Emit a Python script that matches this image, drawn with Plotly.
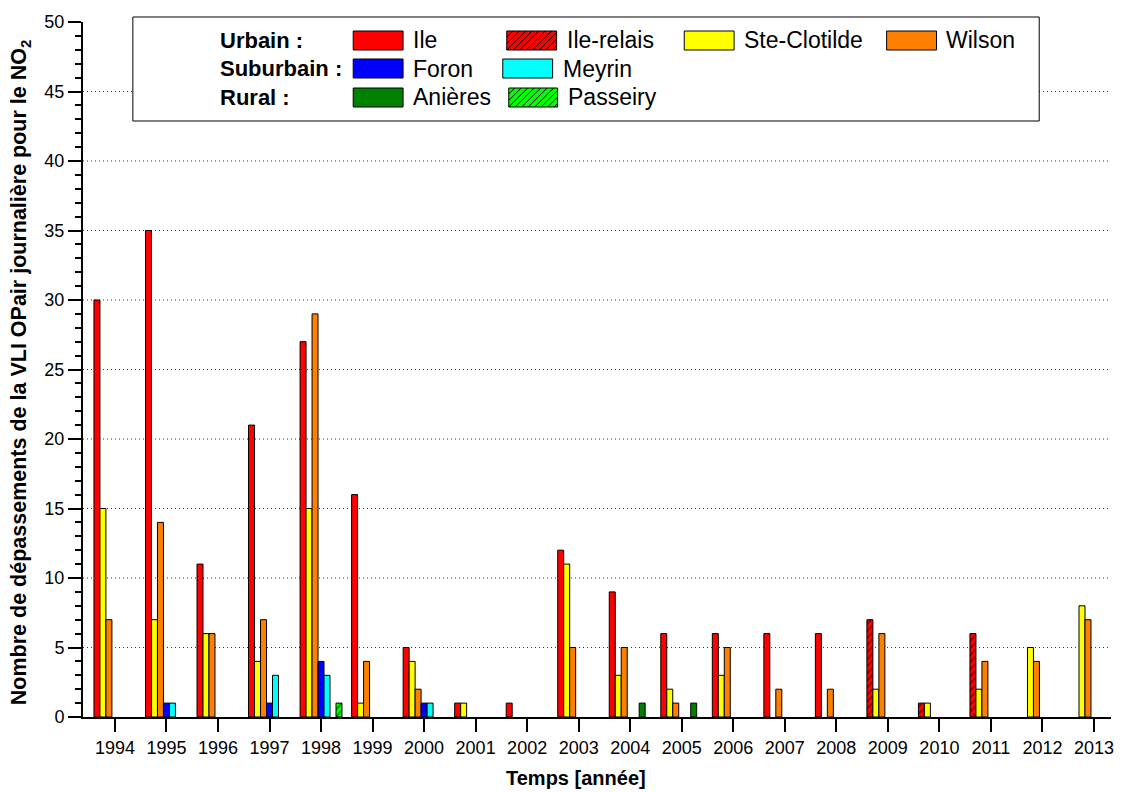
import plotly.graph_objects as go

# ---------------- data ----------------
years = ["1994", "1995", "1996", "1997", "1998", "1999", "2000", "2001", "2002", "2003",
         "2004", "2005", "2006", "2007", "2008", "2009", "2010", "2011", "2012", "2013"]
ile = [30, 35, 11, 21, 27, 16, 5, 1, 1, 12, 9, 6, 6, 6, 6, None, None, None, None, None]
ile_relais = [None, None, None, None, None, None, None, None, None, None,
              None, None, None, None, None, 7, 1, 6, None, None]
ste_clotilde = [15, 7, 6, 4, 15, 1, 4, 1, None, 11, 3, 2, 3, None, None, 2, 1, 2, 5, 8]
wilson = [7, 14, 6, 7, 29, 4, 2, None, None, 5, 5, 1, 5, 2, 2, 6, None, 4, 4, 7]
foron = [None, 1, None, 1, 4, None, 1, None, None, None,
         None, None, None, None, None, None, None, None, None, None]
meyrin = [None, 1, None, 3, 3, None, 1, None, None, None,
          None, None, None, None, None, None, None, None, None, None]
anieres = [None, None, None, None, None, None, None, None, None, None,
           1, 1, None, None, None, None, None, None, None, None]
passeiry = [None, None, None, None, 1, None, None, None, None, None,
            None, None, None, None, None, None, None, None, None, None]

y_ticks = [0, 5, 10, 15, 20, 25, 30, 35, 40, 45, 50]
grid_values = [5, 10, 15, 20, 25, 30, 35, 40, 45]

# ---------------- layout constants ----------------
W, H = 1122, 792
ML, MR, MT, MB = 83, 8, 22, 75
FONT = "Liberation Sans, Arial, Helvetica, sans-serif"

RED, YEL, ORA = "#FF0000", "#FFFF00", "#FF8000"
BLU, CYA, DGR, LGR = "#0000FF", "#00FFFF", "#008000", "#00FF00"


def px_x(px):
    return (px - ML) / (W - ML - MR)


def px_y(py):
    return (H - MB - py) / (H - MT - MB)


fig = go.Figure()

series = [
    ("Ile", ile, RED, None, "g1"),
    ("Ile-relais", ile_relais, RED, "/", "g1"),
    ("Ste-Clotilde", ste_clotilde, YEL, None, "g2"),
    ("Wilson", wilson, ORA, None, "g3"),
    ("Foron", foron, BLU, None, "g4"),
    ("Meyrin", meyrin, CYA, None, "g5"),
    ("Anières", anieres, DGR, None, "g6"),
    ("Passeiry", passeiry, LGR, "/", "g7"),
]
for name, vals, col, pat, grp in series:
    marker = dict(color=col, line=dict(color="black", width=1))
    if pat:
        marker["pattern"] = dict(shape=pat, fgcolor="black", size=5, solidity=0.3)
    fig.add_trace(go.Bar(x=years, y=vals, name=name, marker=marker,
                         offsetgroup=grp, showlegend=False))

shapes = []
# dotted grid lines
for g in grid_values:
    shapes.append(dict(type="line", xref="paper", x0=0, x1=1, yref="y", y0=g, y1=g,
                       line=dict(color="#333333", width=1, dash="1px,3px"), layer="below"))

# legend box
shapes.append(dict(type="rect", xref="paper", yref="paper",
                   x0=px_x(133), x1=px_x(1042), y0=px_y(121), y1=px_y(17),
                   fillcolor="white", line=dict(color="black", width=1), layer="above"))

annotations = []
rows = [40.5, 68.5, 97.5]
SW_H = 19
for lab, r in [("Urbain :", 0), ("Suburbain :", 1), ("Rural :", 2)]:
    annotations.append(dict(text="<b>" + lab + "</b>", xref="paper", yref="paper",
                            x=px_x(218), y=px_y(rows[r]), xanchor="left", yanchor="middle",
                            showarrow=False, font=dict(family=FONT, size=22, color="black")))

legend_items = [
    ("Ile", RED, False, 354, 404, 412, 0),
    ("Ile-relais", RED, True, 508, 558, 566, 0),
    ("Ste-Clotilde", YEL, False, 686, 736, 744, 0),
    ("Wilson", ORA, False, 889, 939, 947, 0),
    ("Foron", BLU, False, 354, 404, 412, 1),
    ("Meyrin", CYA, False, 504, 554, 562, 1),
    ("Anières", DGR, False, 354, 404, 412, 2),
    ("Passeiry", LGR, True, 510, 559, 567, 2),
]
for lab, col, hatch, x0, x1, tx, r in legend_items:
    yc = rows[r]
    y0, y1 = yc - SW_H / 2, yc + SW_H / 2
    shapes.append(dict(type="rect", xref="paper", yref="paper",
                       x0=px_x(x0), x1=px_x(x1), y0=px_y(y1), y1=px_y(y0),
                       fillcolor=col, line=dict(color="black", width=1), layer="above"))
    if hatch:
        path = ""
        k = x0 + y0 + 6
        while k < x1 + y1:
            xa = max(x0, k - y1)
            xb = min(x1, k - y0)
            if xb > xa:
                path += "M{:.5f},{:.5f} L{:.5f},{:.5f} ".format(
                    px_x(xa), px_y(k - xa), px_x(xb), px_y(k - xb))
            k += 6.5
        shapes.append(dict(type="path", xref="paper", yref="paper", path=path.strip(),
                           line=dict(color="black", width=1), layer="above"))
    annotations.append(dict(text=lab, xref="paper", yref="paper",
                            x=px_x(tx), y=px_y(yc), xanchor="left", yanchor="middle",
                            showarrow=False, font=dict(family=FONT, size=23, color="black")))

# axis titles
annotations.append(dict(text="<b>Temps [année]</b>", xref="paper", yref="paper",
                        x=px_x(577), y=px_y(778), xanchor="center", yanchor="middle",
                        showarrow=False, font=dict(family=FONT, size=20, color="black")))
annotations.append(dict(text="<b>Nombre de dépassements de la VLI OPair journalière pour le NO<sub>2</sub></b>",
                        xref="paper", yref="paper", textangle=-90,
                        x=px_x(20), y=px_y(372), xanchor="center", yanchor="middle",
                        showarrow=False, font=dict(family=FONT, size=21.5, color="black")))

cat_w = 51.68
x_lo = -(115 - ML) / cat_w
x_hi = x_lo + (W - ML - MR) / cat_w

fig.update_layout(
    width=W, height=H,
    margin=dict(l=ML, r=MR, t=MT, b=MB, pad=0),
    paper_bgcolor="white", plot_bgcolor="white",
    barmode="group", bargap=0.187, bargroupgap=0,
    shapes=shapes, annotations=annotations,
    font=dict(family=FONT, size=18, color="black"),
    xaxis=dict(type="category", range=[x_lo, x_hi], showgrid=False, zeroline=False,
               showline=True, linecolor="black", linewidth=2,
               ticks="outside", ticklen=13, tickwidth=2, tickcolor="black",
               tickfont=dict(family=FONT, size=18, color="black")),
    yaxis=dict(range=[0, 50], tickvals=y_ticks, showgrid=False, zeroline=False,
               showline=True, linecolor="black", linewidth=2,
               ticks="outside", ticklen=13, tickwidth=2, tickcolor="black",
               tickfont=dict(family=FONT, size=18, color="black"),
               minor=dict(dtick=1, ticks="outside", ticklen=6, tickwidth=2,
                          tickcolor="black", showgrid=False)),
)

fig.write_html("out.html",
               config={"displayModeBar": False},
               post_script="document.body.style.margin='0';document.body.style.overflow='hidden';")
